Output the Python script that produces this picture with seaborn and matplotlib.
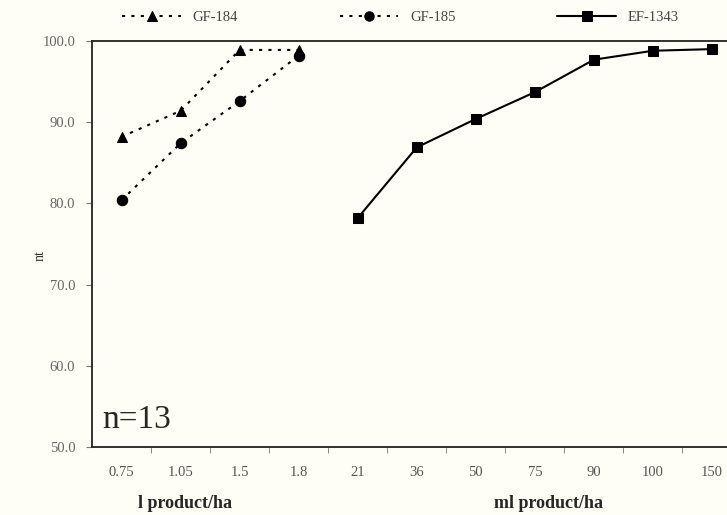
import numpy as np
import pandas as pd
import matplotlib
matplotlib.use("Agg")
import matplotlib.pyplot as plt
import seaborn as sns
from matplotlib.ticker import FixedLocator

# dose categories (first four in l/ha, rest in ml/ha)
doses = ["0.75", "1.05", "1.5", "1.8", "21", "36", "50", "75", "90", "100", "150"]
gf184_doses = ["0.75", "1.05", "1.5", "1.8"]
gf184_vals = [88.2, 91.4, 98.9, 98.9]
gf185_doses = ["0.75", "1.05", "1.5", "1.8"]
gf185_vals = [80.4, 87.4, 92.6, 98.2]
ef1343_doses = ["21", "36", "50", "75", "90", "100", "150"]
ef1343_vals = [78.2, 86.9, 90.4, 93.7, 97.7, 98.8, 99.0]
yticks = [50, 60, 70, 80, 90, 100]

pos = {d: i for i, d in enumerate(doses)}
df = pd.concat([
    pd.DataFrame({"x": [pos[d] for d in gf184_doses], "y": gf184_vals, "series": "GF-184"}),
    pd.DataFrame({"x": [pos[d] for d in gf185_doses], "y": gf185_vals, "series": "GF-185"}),
    pd.DataFrame({"x": [pos[d] for d in ef1343_doses], "y": ef1343_vals, "series": "EF-1343"}),
])

sns.set_style("white")
plt.rcParams["font.family"] = ["Liberation Serif", "DejaVu Serif"]
bg = "#fefef6"

fig = plt.figure(figsize=(7.27, 5.15), dpi=100, facecolor=bg)
ax = fig.add_axes([92 / 727, (515 - 447) / 515, (727 - 92) / 727 + 0.02, (447 - 41) / 515])
ax.set_facecolor(bg)

styles = {
    "GF-184": dict(marker="^", linestyle=(0, (1.5, 3))),
    "GF-185": dict(marker="o", linestyle=(0, (1.5, 3))),
    "EF-1343": dict(marker="s", linestyle="-"),
}
for name, st in styles.items():
    sub = df[df["series"] == name]
    sns.lineplot(data=sub, x="x", y="y", ax=ax, color="black", marker=st["marker"],
                 linestyle=st["linestyle"], linewidth=1.5, markersize=7.5,
                 markeredgecolor="black", label=name)

ax.set_xlim(-0.5, 10.5)
ax.set_ylim(50, 100)
ax.set_xticks(range(len(doses)))
ax.set_xticklabels(doses)
ax.xaxis.set_minor_locator(FixedLocator(np.arange(0.5, 10.5, 1)))
ax.tick_params(axis="x", which="major", length=0, pad=14, labelsize=10.5, labelcolor="#555555")
ax.tick_params(axis="x", which="minor", length=4, direction="out", color="#777777", bottom=True)
ax.set_yticks(yticks)
ax.set_yticklabels([f"{v:.1f}" for v in yticks])
ax.tick_params(axis="y", length=4, direction="out", left=True, pad=8, labelsize=10.5,
               labelcolor="#666666", color="#777777")
for s in ["left", "top", "bottom"]:
    ax.spines[s].set_color("#222222")
    ax.spines[s].set_linewidth(1.3)
ax.spines["right"].set_visible(False)
ax.set_xlabel("")
ax.set_ylabel("")
fig.text(40 / 727, 1 - 256 / 515, "nt", fontsize=10, rotation=90, ha="center", va="center",
         color="#333333")

ax.text(0.015, 0.03, "n=13", transform=ax.transAxes, fontsize=24, ha="left", va="bottom")
fig.text(185 / 727, 1 - 503 / 515, "l product/ha", fontsize=13, fontweight="bold",
         ha="center", va="center")
fig.text(548 / 727, 1 - 503 / 515, "ml product/ha", fontsize=13, fontweight="bold",
         ha="center", va="center")

leg = ax.legend(loc="lower center", bbox_to_anchor=(0.475, 1.01), ncol=3, frameon=False,
                fontsize=10.5, handlelength=4, columnspacing=7, markerscale=0.9)
for t in leg.get_texts():
    t.set_color("#444444")

fig.savefig("out.png", dpi=100, facecolor=bg)
